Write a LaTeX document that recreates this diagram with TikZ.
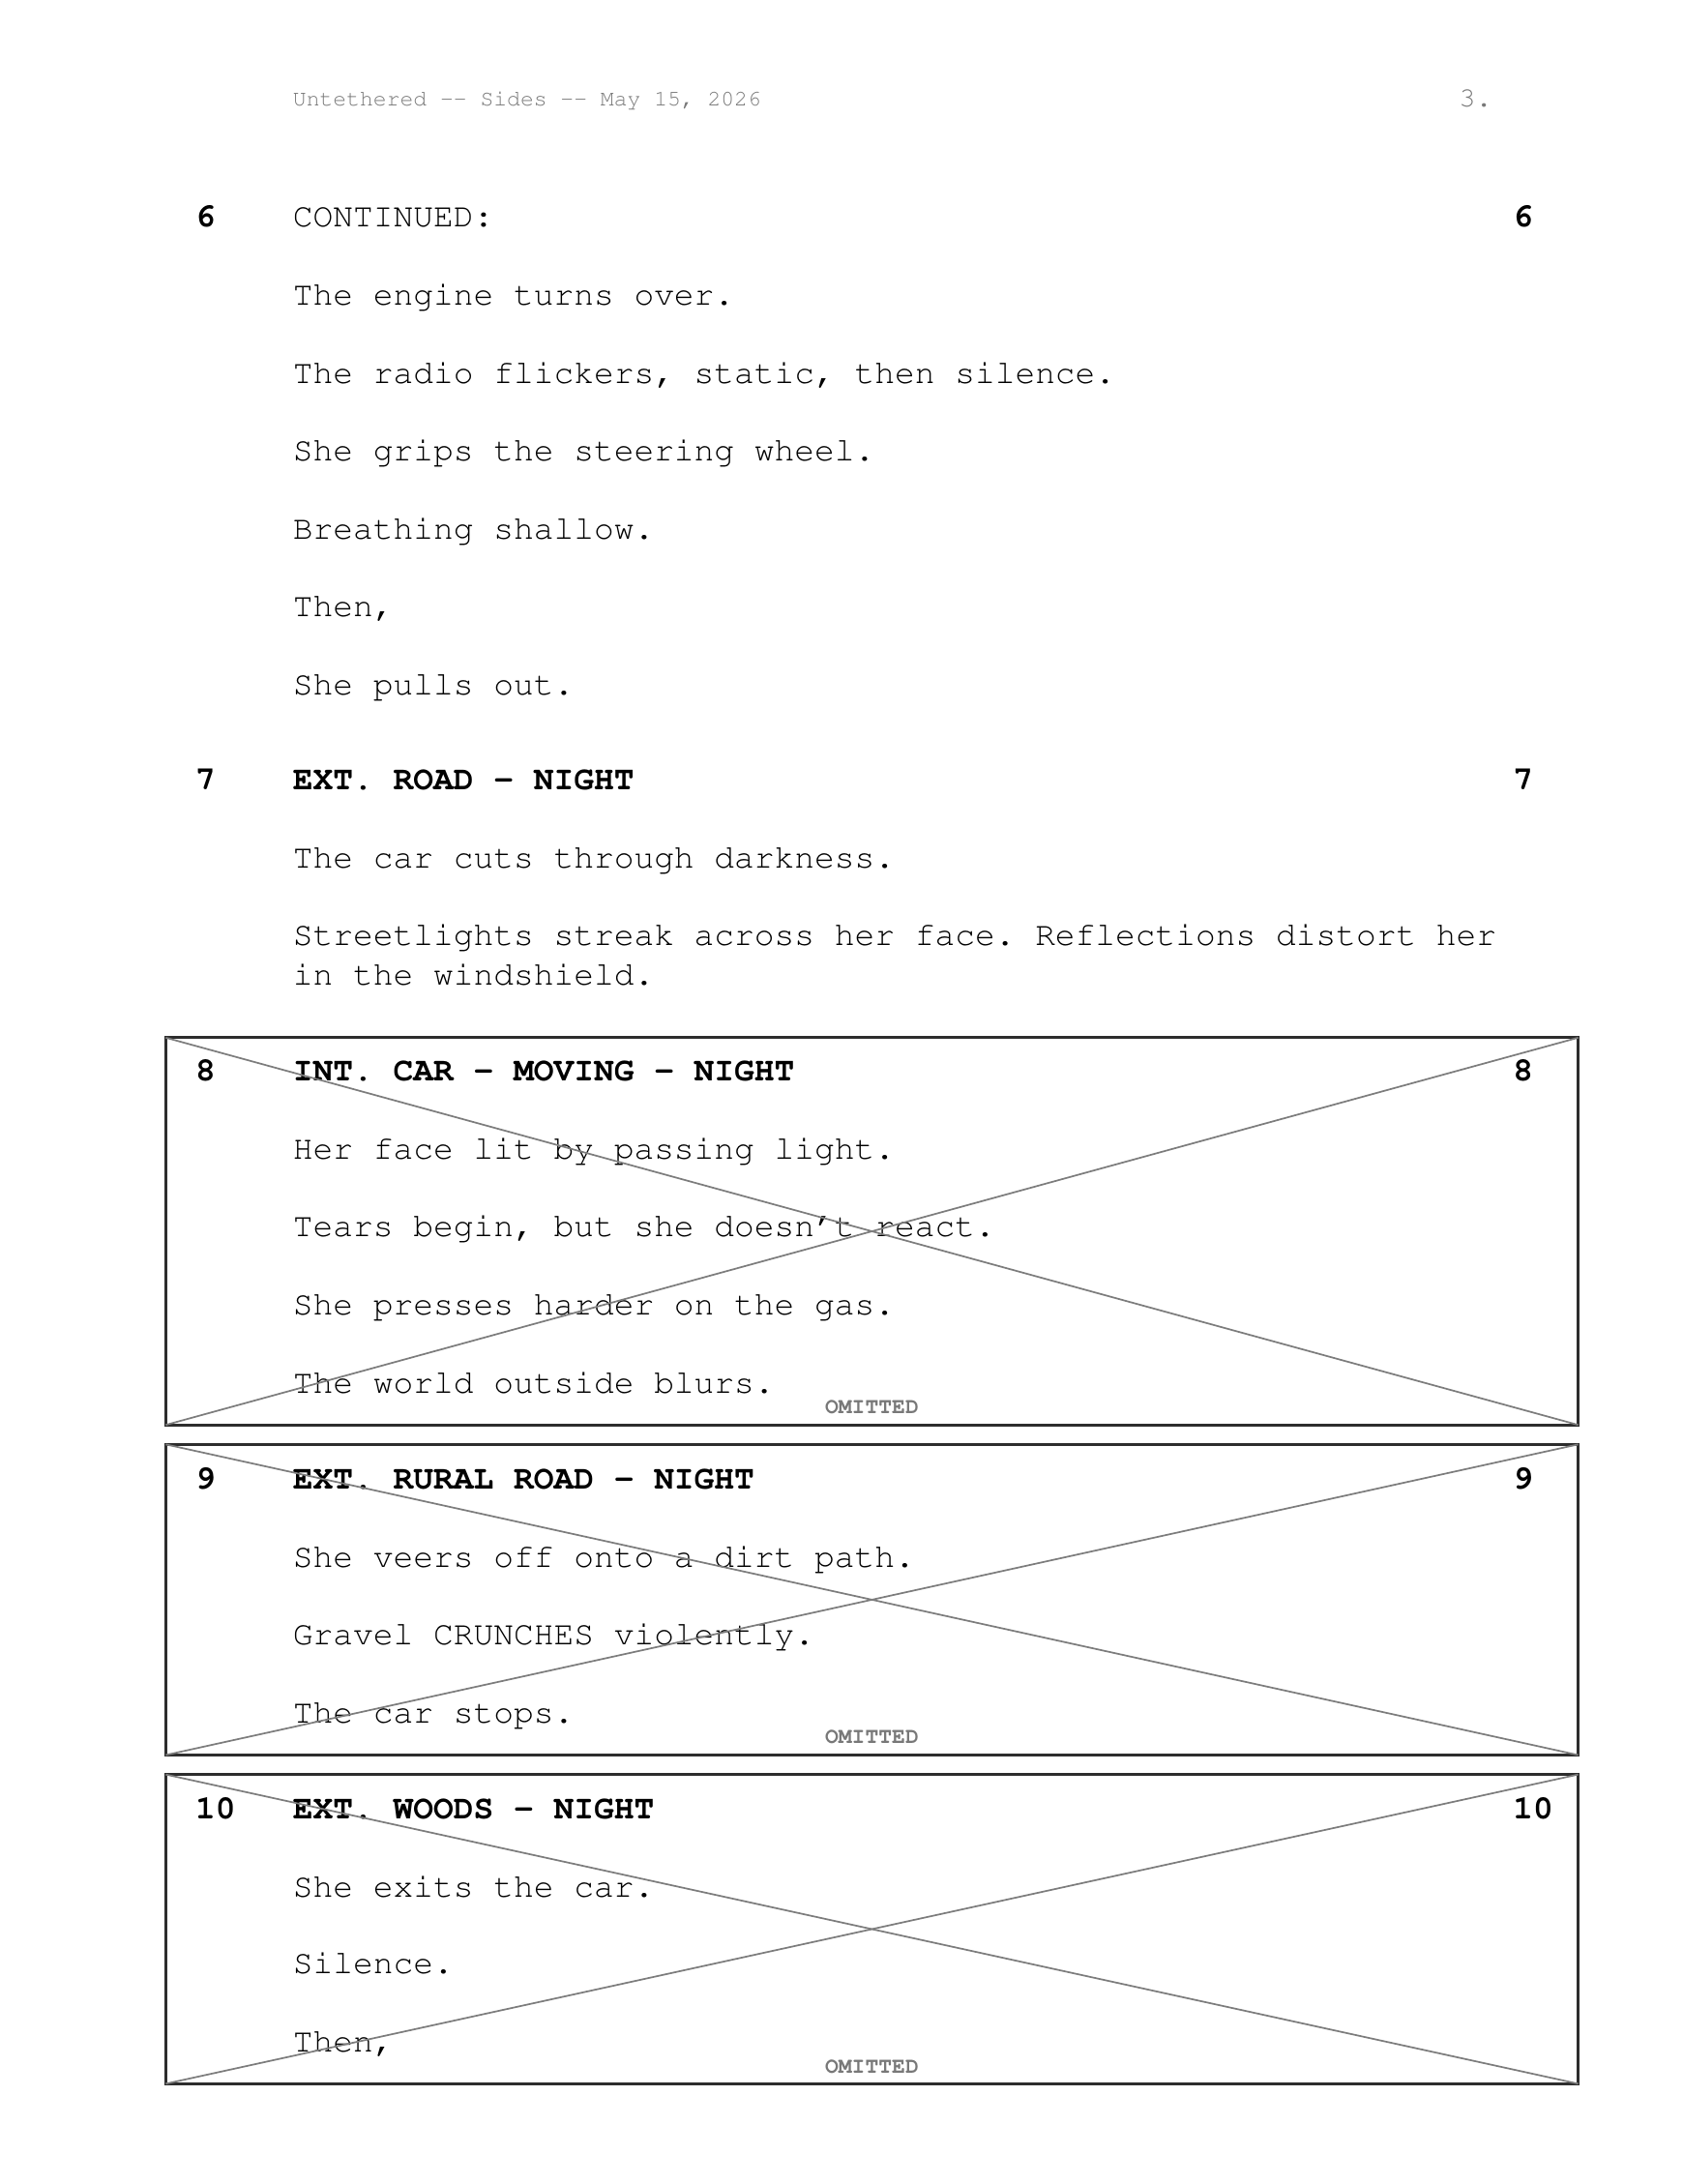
\documentclass[tikz,border=0pt]{standalone}
\usepackage[T1]{fontenc}
\renewcommand\rmdefault{pcr}
\usepackage{xcolor}
\definecolor{headgray}{RGB}{120,120,120}
\definecolor{crossgray}{RGB}{125,125,125}
\definecolor{boxdark}{RGB}{45,45,45}
\usetikzlibrary{positioning}
\frenchspacing

\begin{document}
\begin{tikzpicture}[
    x=0.5pt, y=-0.5pt,
    line/.style={anchor=base west, inner sep=0pt, font=\fontsize{12}{14}\selectfont},
    slug/.style={line, font=\fontsize{12}{14}\selectfont\bfseries},
    num/.style={slug},
    header/.style={anchor=base west, inner sep=0pt, text=headgray, font=\fontsize{8}{9}\selectfont},
    omitbox/.style={draw=boxdark, line width=1pt},
    cross/.style={draw=crossgray, line width=0.6pt},
    omitted/.style={inner sep=0pt, text=headgray, font=\fontsize{8}{9}\selectfont\bfseries}
]
    \useasboundingbox (0,0) rectangle (1208,1568);

    % Header
    \node[header] (title) at (210,76) {Untethered \textemdash{} Sides \textemdash{} May 15, 2026};
    \node[header, font=\fontsize{10}{12}\selectfont] (page) at (1047,77) {3.};

    % Scene 6
    \node[num] (n6l) at (140,163) {6};
    \node[line] (s6) at (210,163) {CONTINUED:};
    \node[num] (n6r) at (1086,163) {6};
    \node[line] (l61) at (210,219) {The engine turns over.};
    \node[line] (l62) at (210,275) {The radio flickers, static, then silence.};
    \node[line] (l63) at (210,331) {She grips the steering wheel.};
    \node[line] (l64) at (210,387) {Breathing shallow.};
    \node[line] (l65) at (210,443) {Then,};
    \node[line] (l66) at (210,499) {She pulls out.};

    % Scene 7
    \node[num] (n7l) at (140,567) {7};
    \node[slug] (s7) at (210,567) {EXT. ROAD - NIGHT};
    \node[num] (n7r) at (1086,567) {7};
    \node[line] (l71) at (210,623) {The car cuts through darkness.};
    \node[line] (l72) at (210,679) {Streetlights streak across her face. Reflections distort her};
    \node[line] (l73) at (210,707) {in the windshield.};

    % Scene 8 (omitted)
    \coordinate (b8a) at (119,745);
    \coordinate (b8b) at (1133,1023);
    \node[num] (n8l) at (140,776) {8};
    \node[slug] (s8) at (210,776) {INT. CAR - MOVING - NIGHT};
    \node[num] (n8r) at (1086,776) {8};
    \node[line] (l81) at (210,832) {Her face lit by passing light.};
    \node[line] (l82) at (210,888) {Tears begin, but she doesn\textquoteright t react.};
    \node[line] (l83) at (210,944) {She presses harder on the gas.};
    \node[line] (l84) at (210,1000) {The world outside blurs.};
    \draw[omitbox] (b8a) rectangle (b8b);
    \draw[cross] (b8a) -- (b8b);
    \draw[cross] (b8a |- b8b) -- (b8b |- b8a);
    \node[omitted] (o8) at (626,1010) {OMITTED};

    % Scene 9 (omitted)
    \coordinate (b9a) at (119,1037);
    \coordinate (b9b) at (1133,1260);
    \node[num] (n9l) at (140,1069) {9};
    \node[slug] (s9) at (210,1069) {EXT. RURAL ROAD - NIGHT};
    \node[num] (n9r) at (1086,1069) {9};
    \node[line] (l91) at (210,1125) {She veers off onto a dirt path.};
    \node[line] (l92) at (210,1181) {Gravel CRUNCHES violently.};
    \node[line] (l93) at (210,1237) {The car stops.};
    \draw[omitbox] (b9a) rectangle (b9b);
    \draw[cross] (b9a) -- (b9b);
    \draw[cross] (b9a |- b9b) -- (b9b |- b9a);
    \node[omitted] (o9) at (626,1247) {OMITTED};

    % Scene 10 (omitted)
    \coordinate (b10a) at (119,1274);
    \coordinate (b10b) at (1133,1496);
    \node[num] (n10l) at (140,1306) {10};
    \node[slug] (s10) at (210,1306) {EXT. WOODS - NIGHT};
    \node[num] (n10r) at (1086,1306) {10};
    \node[line] (l101) at (210,1362) {She exits the car.};
    \node[line] (l102) at (210,1417) {Silence.};
    \node[line] (l103) at (210,1473) {Then,};
    \draw[omitbox] (b10a) rectangle (b10b);
    \draw[cross] (b10a) -- (b10b);
    \draw[cross] (b10a |- b10b) -- (b10b |- b10a);
    \node[omitted] (o10) at (626,1484) {OMITTED};
\end{tikzpicture}
\end{document}
